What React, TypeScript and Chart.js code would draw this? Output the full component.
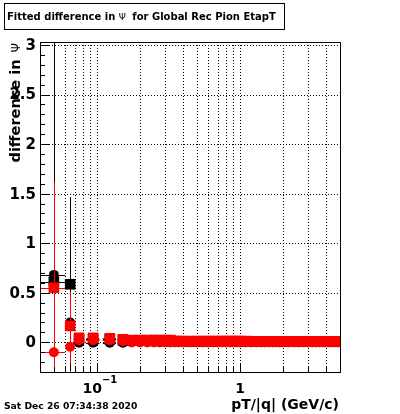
import React, { useEffect, useRef } from 'react';
import { Chart, registerables } from 'chart.js';

Chart.register(...registerables);

// ---- data ----
const xValues = [
  0.05, 0.065, 0.075, 0.094, 0.123, 0.152,
  0.175, 0.2, 0.225, 0.25, 0.275, 0.3, 0.325, 0.35, 0.375, 0.4,
  0.45, 0.5, 0.55, 0.6, 0.65, 0.7, 0.75, 0.8, 0.85, 0.9, 0.95, 1.0,
  1.1, 1.2, 1.3, 1.4, 1.5, 1.6, 1.7, 1.8, 1.9, 2.0,
  2.2, 2.4, 2.6, 2.8, 3.0, 3.2, 3.4, 3.6, 3.8, 4.0, 4.2, 4.4, 4.6, 4.8,
];
const xHalfWidths = [
  0.01, 0.004, 0.006, 0.01, 0.013, 0.0125,
  0.0125, 0.0125, 0.0125, 0.0125, 0.0125, 0.0125, 0.0125, 0.0125, 0.0125, 0.0125,
  0.025, 0.025, 0.025, 0.025, 0.025, 0.025, 0.025, 0.025, 0.025, 0.025, 0.025, 0.025,
  0.05, 0.05, 0.05, 0.05, 0.05, 0.05, 0.05, 0.05, 0.05, 0.05,
  0.1, 0.1, 0.1, 0.1, 0.1, 0.1, 0.1, 0.1, 0.1, 0.1, 0.1, 0.1, 0.1, 0.1,
];
const blackSquareY = [
  0.61, 0.585, 0.03, 0.03, 0.03, 0.02,
  0.02, 0.02, 0.02, 0.02, 0.02, 0.02, 0.02, 0.01, 0.01, 0.01,
  0.01, 0.01, 0.01, 0.01, 0.01, 0.01, 0.01, 0.01, 0.01, 0.01, 0.01, 0.01,
  0.01, 0.01, 0.01, 0.01, 0.01, 0.01, 0.01, 0.01, 0.01, 0.01,
  0.01, 0.01, 0.01, 0.01, 0.01, 0.01, 0.01, 0.01, 0.01, 0.01, 0.01, 0.01, 0.01, 0.01,
];
const blackSquareErr = [
  0.6, 0.88, 0.02, 0.02, 0.02, 0.02,
  0.01, 0.01, 0.01, 0.01, 0.01, 0.01, 0.01, 0.01, 0.01, 0.01,
  0.01, 0.01, 0.01, 0.01, 0.01, 0.01, 0.01, 0.01, 0.01, 0.01, 0.01, 0.01,
  0.01, 0.01, 0.01, 0.01, 0.01, 0.01, 0.01, 0.01, 0.01, 0.01,
  0.01, 0.01, 0.01, 0.01, 0.01, 0.01, 0.01, 0.01, 0.01, 0.01, 0.01, 0.01, 0.01, 0.01,
];
const blackCircleY = [
  0.68, 0.2, -0.005, -0.005, -0.005, -0.005,
  0.0, 0.0, 0.0, 0.0, 0.0, 0.0, 0.0, 0.0, 0.0, 0.0,
  0.0, 0.0, 0.0, 0.0, 0.0, 0.0, 0.0, 0.0, 0.0, 0.0, 0.0, 0.0,
  0.0, 0.0, 0.0, 0.0, 0.0, 0.0, 0.0, 0.0, 0.0, 0.0,
  0.0, 0.0, 0.0, 0.0, 0.0, 0.0, 0.0, 0.0, 0.0, 0.0, 0.0, 0.0, 0.0, 0.0,
];
const blackCircleErr = [
  3.5, 0.3, 0.02, 0.02, 0.02, 0.02,
  0.01, 0.01, 0.01, 0.01, 0.01, 0.01, 0.01, 0.01, 0.01, 0.01,
  0.01, 0.01, 0.01, 0.01, 0.01, 0.01, 0.01, 0.01, 0.01, 0.01, 0.01, 0.01,
  0.01, 0.01, 0.01, 0.01, 0.01, 0.01, 0.01, 0.01, 0.01, 0.01,
  0.01, 0.01, 0.01, 0.01, 0.01, 0.01, 0.01, 0.01, 0.01, 0.01, 0.01, 0.01, 0.01, 0.01,
];
const redSquareY = [
  0.55, 0.165, 0.045, 0.045, 0.04, 0.03,
  0.022, 0.022, 0.022, 0.022, 0.022, 0.022, 0.022, 0.012, 0.012, 0.012,
  0.012, 0.012, 0.012, 0.012, 0.012, 0.012, 0.012, 0.012, 0.012, 0.012, 0.012, 0.012,
  0.012, 0.01, 0.01, 0.01, 0.01, 0.01, 0.01, 0.01, 0.01, 0.01,
  0.01, 0.01, 0.01, 0.01, 0.01, 0.01, 0.01, 0.01, 0.01, 0.01, 0.01, 0.01, 0.01, 0.01,
];
const redSquareErr = [
  1.07, 0.34, 0.02, 0.02, 0.02, 0.015,
  0.01, 0.01, 0.01, 0.01, 0.01, 0.01, 0.01, 0.01, 0.01, 0.01,
  0.01, 0.01, 0.01, 0.01, 0.01, 0.01, 0.01, 0.01, 0.01, 0.01, 0.01, 0.01,
  0.01, 0.01, 0.01, 0.01, 0.01, 0.01, 0.01, 0.01, 0.01, 0.01,
  0.01, 0.01, 0.01, 0.01, 0.01, 0.01, 0.01, 0.01, 0.01, 0.01, 0.01, 0.01, 0.01, 0.01,
];
const redCircleY = [
  -0.1, -0.045, 0.02, 0.02, 0.02, 0.01,
  0.0, 0.0, 0.0, 0.0, 0.0, 0.0, 0.0, 0.0, 0.0, 0.0,
  0.0, 0.0, 0.0, 0.0, 0.0, 0.0, 0.0, 0.0, 0.0, 0.0, 0.0, 0.0,
  0.0, 0.0, 0.0, 0.0, 0.0, 0.0, 0.0, 0.0, 0.0, 0.0,
  0.0, 0.0, 0.0, 0.0, 0.0, 0.0, 0.0, 0.0, 0.0, 0.0, 0.0, 0.0, 0.0, 0.0,
];
const redCircleErr = [
  0.5, 0.17, 0.02, 0.02, 0.02, 0.015,
  0.01, 0.01, 0.01, 0.01, 0.01, 0.01, 0.01, 0.01, 0.01, 0.01,
  0.01, 0.01, 0.01, 0.01, 0.01, 0.01, 0.01, 0.01, 0.01, 0.01, 0.01, 0.01,
  0.01, 0.01, 0.01, 0.01, 0.01, 0.01, 0.01, 0.01, 0.01, 0.01,
  0.01, 0.01, 0.01, 0.01, 0.01, 0.01, 0.01, 0.01, 0.01, 0.01, 0.01, 0.01, 0.01, 0.01,
];

// ---- axes ----
const xMin = 0.04;
const xMax = 5;
const yMin = -0.3;
const yMax = 3.03;
const xGridValues = [0.05, 0.06, 0.07, 0.08, 0.09, 0.1, 0.2, 0.3, 0.4, 0.5, 0.6, 0.7, 0.8, 0.9, 1, 2, 3, 4];
const xMajorValues = [0.1, 1];
const yMajorTicks = [0, 0.5, 1, 1.5, 2, 2.5, 3];
const yTickLabels = ['0', '0.5', '1', '1.5', '2', '2.5', '3'];
const yMinorStep = 0.1;

const titleText = 'Fitted difference in ';
const titleText2 = ' for Global Rec Pion EtapT';
const yTitle = 'difference in ';
const xTitle = 'pT/|q| (GeV/c)';
const dateText = 'Sat Dec 26 07:34:38 2020';

const FONT = '"DejaVu Sans", sans-serif';

type Series = { y: number[]; err: number[]; color: string; style: string; radius: number; order: number };
const seriesList: Series[] = [
  { y: blackSquareY, err: blackSquareErr, color: '#000000', style: 'rect', radius: 7.5, order: 4 },
  { y: blackCircleY, err: blackCircleErr, color: '#000000', style: 'circle', radius: 5, order: 3 },
  { y: redCircleY, err: redCircleErr, color: '#ff0000', style: 'circle', radius: 5, order: 2 },
  { y: redSquareY, err: redSquareErr, color: '#ff0000', style: 'rect', radius: 7.5, order: 1 },
];

const rootPlugin = {
  id: 'rootStyle',
  beforeDatasetsDraw(chart: any) {
    const { ctx, chartArea: a, scales } = chart;
    const x = scales.x, y = scales.y;
    ctx.save();
    ctx.strokeStyle = '#000';
    ctx.lineWidth = 1;
    ctx.setLineDash([1, 2]);
    for (const v of xGridValues) {
      const px = Math.round(x.getPixelForValue(v)) + 0.5;
      ctx.beginPath(); ctx.moveTo(px, a.top); ctx.lineTo(px, a.bottom); ctx.stroke();
    }
    for (const v of yMajorTicks) {
      const py = Math.round(y.getPixelForValue(v)) + 0.5;
      ctx.beginPath(); ctx.moveTo(a.left, py); ctx.lineTo(a.right, py); ctx.stroke();
    }
    ctx.restore();
  },
  beforeDatasetDraw(chart: any, args: any) {
    const s = seriesList[args.index];
    if (!s) return;
    const { ctx, chartArea: a, scales } = chart;
    const x = scales.x, y = scales.y;
    ctx.save();
    ctx.beginPath();
    ctx.rect(a.left, a.top, a.right - a.left, a.bottom - a.top);
    ctx.clip();
    ctx.strokeStyle = s.color;
    ctx.lineWidth = 1;
    for (let i = 0; i < xValues.length; i++) {
      const px = Math.round(x.getPixelForValue(xValues[i])) + 0.5;
      const py = Math.round(y.getPixelForValue(s.y[i])) + 0.5;
      const pyTop = y.getPixelForValue(s.y[i] + s.err[i]);
      const pyBot = y.getPixelForValue(s.y[i] - s.err[i]);
      const pxL = x.getPixelForValue(Math.max(1e-4, xValues[i] - xHalfWidths[i]));
      const pxR = x.getPixelForValue(xValues[i] + xHalfWidths[i]);
      ctx.beginPath();
      ctx.moveTo(px, pyTop); ctx.lineTo(px, pyBot);
      ctx.moveTo(pxL, py); ctx.lineTo(pxR, py);
      ctx.stroke();
    }
    ctx.restore();
  },
  afterDraw(chart: any) {
    const { ctx, chartArea: a, scales } = chart;
    const x = scales.x, y = scales.y;
    ctx.save();
    ctx.strokeStyle = '#000';
    ctx.fillStyle = '#000';
    ctx.lineWidth = 1;
    // frame
    ctx.strokeRect(Math.round(a.left) + 0.5, Math.round(a.top) + 0.5, Math.round(a.right - a.left), Math.round(a.bottom - a.top));
    // y ticks
    ctx.beginPath();
    for (let v = Math.ceil(yMin / yMinorStep) * yMinorStep; v <= yMax + 1e-9; v += yMinorStep) {
      const vv = Math.round(v * 10) / 10;
      const isMajor = Math.abs(vv * 2 - Math.round(vv * 2)) < 1e-6;
      const py = Math.round(y.getPixelForValue(vv)) + 0.5;
      ctx.moveTo(a.left, py); ctx.lineTo(a.left + (isMajor ? 9 : 5), py);
    }
    // x ticks
    for (const v of xGridValues) {
      const px = Math.round(x.getPixelForValue(v)) + 0.5;
      const isMajor = xMajorValues.includes(v);
      ctx.moveTo(px, a.bottom); ctx.lineTo(px, a.bottom - (isMajor ? 9 : 5));
    }
    ctx.stroke();

    // y tick labels
    ctx.font = `bold 15px ${FONT}`;
    ctx.textAlign = 'right';
    ctx.textBaseline = 'middle';
    yMajorTicks.forEach((v, i) => {
      ctx.fillText(yTickLabels[i], 36, y.getPixelForValue(v) + 1);
    });

    // x tick labels
    ctx.textBaseline = 'alphabetic';
    ctx.textAlign = 'center';
    ctx.font = `bold 14px ${FONT}`;
    ctx.fillText('1', x.getPixelForValue(1), 393);
    const p01 = x.getPixelForValue(0.1);
    ctx.textAlign = 'right';
    ctx.fillText('10', p01 + 5, 393);
    ctx.textAlign = 'left';
    ctx.font = `bold 10px ${FONT}`;
    ctx.fillText('\u22121', p01 + 5, 383);

    // x title
    ctx.font = `bold 14px ${FONT}`;
    ctx.textAlign = 'right';
    ctx.fillText(xTitle, 339, 409);

    // date
    ctx.font = `bold 9.2px ${FONT}`;
    ctx.textAlign = 'left';
    ctx.fillText(dateText, 4, 409);

    // y title (rotated)
    ctx.save();
    ctx.translate(20, 43);
    ctx.rotate(-Math.PI / 2);
    ctx.textAlign = 'right';
    ctx.font = `12px ${FONT}`;
    ctx.fillText('\u03a8', 0, 0);
    const psiW = ctx.measureText('\u03a8').width;
    ctx.font = `bold 14.5px ${FONT}`;
    ctx.fillText(yTitle, -psiW - 2, 0);
    ctx.restore();

    // title box
    ctx.fillStyle = '#fff';
    ctx.fillRect(4, 3, 280, 26);
    ctx.strokeStyle = '#000';
    ctx.strokeRect(4.5, 3.5, 280, 26);
    ctx.fillStyle = '#000';
    ctx.textAlign = 'left';
    ctx.font = `bold 10px ${FONT}`;
    let tx = 7;
    ctx.fillText(titleText, tx, 20);
    tx += ctx.measureText(titleText).width;
    ctx.font = `9px ${FONT}`;
    ctx.fillText('\u03a8', tx, 20);
    tx += ctx.measureText('\u03a8').width + 3;
    ctx.font = `bold 10px ${FONT}`;
    ctx.fillText(titleText2, tx, 20);

    ctx.restore();
  },
};

export default function App() {
  const ref = useRef<HTMLCanvasElement | null>(null);
  useEffect(() => {
    if (!ref.current) return;
    const chart = new Chart(ref.current, {
      type: 'scatter',
      data: {
        datasets: seriesList.map((s) => ({
          data: xValues.map((xv, i) => ({ x: xv, y: s.y[i] })),
          pointStyle: s.style as any,
          pointRadius: s.radius,
          pointHoverRadius: s.radius,
          backgroundColor: s.color,
          borderColor: s.color,
          pointBorderWidth: 0,
          showLine: false,
          order: s.order,
          clip: 0,
        })),
      },
      options: {
        animation: false,
        responsive: false,
        maintainAspectRatio: false,
        devicePixelRatio: 1,
        events: [],
        layout: { padding: { left: 40, right: 60, top: 42, bottom: 42 } },
        plugins: { legend: { display: false }, tooltip: { enabled: false } },
        scales: {
          x: { type: 'logarithmic', min: xMin, max: xMax, display: false },
          y: { type: 'linear', min: yMin, max: yMax, display: false },
        },
      },
      plugins: [rootPlugin],
    });
    return () => chart.destroy();
  }, []);
  return (
    <div style={{ position: 'fixed', left: 0, top: 0, width: 400, height: 414, background: '#fff' }}>
      <canvas ref={ref} width={400} height={414} style={{ width: 400, height: 414, display: 'block' }} />
    </div>
  );
}
